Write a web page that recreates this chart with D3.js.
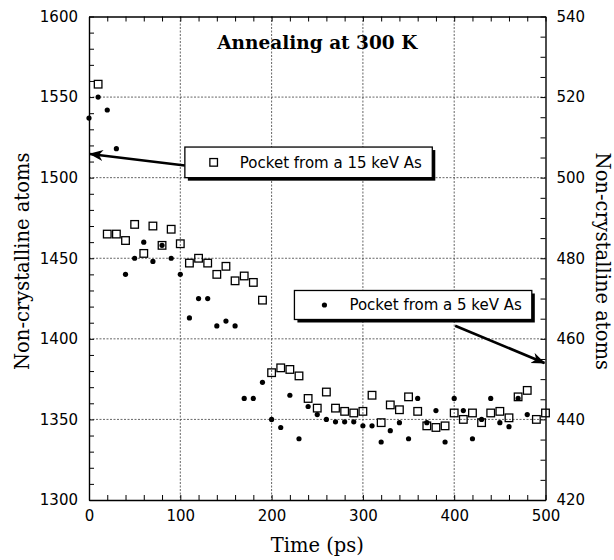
<!DOCTYPE html>
<html lang="en">
<head>
<meta charset="UTF-8">
<script src="https://d3js.org/d3.v7.min.js"></script>
<style>
    body { margin: 0; background: #fff; }
    .tick text { font-family: "DejaVu Sans", sans-serif; font-size: 15px; fill: #000; }
    .grid line { stroke: #555; stroke-width: 0.9; stroke-dasharray: 2,1.5; }
    .title { font-family: "DejaVu Serif", serif; font-weight: bold; font-size: 18.5px; }
    .axis-label { font-family: "DejaVu Serif", serif; font-size: 19.5px; }
    .legend-text { font-family: "DejaVu Sans", sans-serif; font-size: 15px; }
</style>
</head>
<body>
<div id="chart"></div>
<script>
// 15 keV As pocket (left axis, atoms)
const time15 = [10, 20, 30, 40, 50, 60, 70, 80, 90, 100,
    110, 120, 130, 140, 150, 160, 170, 180, 190, 200,
    210, 220, 230, 240, 250, 260, 270, 280, 290, 300,
    310, 320, 330, 340, 350, 360, 370, 380, 390, 400,
    410, 420, 430, 440, 450, 460, 470, 480, 490, 500];
const atoms15 = [1558, 1465, 1465, 1461, 1471, 1453, 1470, 1458, 1468, 1459,
    1447, 1450, 1447, 1440, 1445, 1436, 1439, 1435, 1424, 1379,
    1382, 1381, 1377, 1363, 1357, 1367, 1357, 1355, 1354, 1355,
    1365, 1348, 1359, 1356, 1364, 1355, 1346, 1345, 1346, 1354,
    1350, 1354, 1348, 1354, 1355, 1351, 1364, 1368, 1350, 1354];

// 5 keV As pocket (right axis, atoms)
const time5 = [0, 10, 20, 30, 40, 50, 60, 70, 80, 90,
    100, 110, 120, 130, 140, 150, 160, 170, 180, 190,
    200, 210, 220, 230, 240, 250, 260, 270, 280, 290,
    300, 310, 320, 330, 340, 350, 360, 370, 380, 390,
    400, 410, 420, 430, 440, 450, 460, 470, 480];
const atoms5 = [514.8, 520, 516.8, 507.2, 476, 480, 484, 479.2, 483.2, 480,
    476, 465.2, 470, 470, 463.2, 464.4, 463.2, 445.2, 445.2, 449.2,
    440, 438, 446, 435.2, 443.2, 441.2, 440, 439.4, 439.4, 439.4,
    438.4, 438.4, 434.4, 437.2, 439.2, 435.2, 445.2, 439.2, 442.2, 434.4,
    445.2, 442.2, 435.2, 440, 445.2, 439.2, 438.2, 445.2, 441.2];

const xLabels = [0, 100, 200, 300, 400, 500];
const yLeftLabels = [1300, 1350, 1400, 1450, 1500, 1550, 1600];
const yRightLabels = [420, 440, 460, 480, 500, 520, 540];
const xGrid = [100, 200, 300, 400];
const yGrid = [1350, 1400, 1450, 1500, 1550];

const W = 614, H = 560;
const margin = { top: 16.5, right: 68.5, bottom: 60, left: 89 };
const width = W - margin.left - margin.right,
      height = H - margin.top - margin.bottom;

const svg = d3.select("#chart").append("svg")
    .attr("width", W).attr("height", H);
const g = svg.append("g")
    .attr("transform", `translate(${margin.left},${margin.top})`);

const x = d3.scaleLinear().domain([0, 500]).range([0, width]);
const yL = d3.scaleLinear().domain([1300, 1600]).range([height, 0]);
const yR = d3.scaleLinear().domain([420, 540]).range([height, 0]);

// grid
const grid = g.append("g").attr("class", "grid");
grid.selectAll(".gx").data(xGrid).enter().append("line")
    .attr("x1", d => x(d)).attr("x2", d => x(d))
    .attr("y1", 0).attr("y2", height);
grid.selectAll(".gy").data(yGrid).enter().append("line")
    .attr("x1", 0).attr("x2", width)
    .attr("y1", d => yL(d)).attr("y2", d => yL(d));

// axes, ticks pointing inward
g.append("g")
    .attr("transform", `translate(0,${height})`)
    .call(d3.axisBottom(x).tickValues(d3.range(0, 501, 20)).tickSize(-5).tickSizeOuter(0)
        .tickPadding(10).tickFormat(d => xLabels.includes(d) ? d : ""));
g.append("g")
    .call(d3.axisTop(x).tickValues(d3.range(0, 501, 20)).tickSize(-5).tickSizeOuter(0)
        .tickFormat(""));
g.append("g")
    .call(d3.axisLeft(yL).tickValues(d3.range(1300, 1601, 10)).tickSize(-5).tickSizeOuter(0)
        .tickPadding(11).tickFormat(d => yLeftLabels.includes(d) ? d : ""));
g.append("g")
    .attr("transform", `translate(${width},0)`)
    .call(d3.axisRight(yR).tickValues(d3.range(420, 541, 5)).tickSize(-5).tickSizeOuter(0)
        .tickPadding(11).tickFormat(d => yRightLabels.includes(d) ? d : ""));

g.selectAll(".domain").attr("stroke", "#000").attr("stroke-width", 1.4);
g.selectAll(".tick line").attr("stroke", "#000").attr("stroke-width", 1);

// markers
const pts15 = time15.map((t, i) => ({ t: t, v: atoms15[i] }));
const pts5 = time5.map((t, i) => ({ t: t, v: atoms5[i] }));

g.selectAll(".sq").data(pts15).enter().append("rect")
    .attr("x", d => x(d.t) - 3.8).attr("y", d => yL(d.v) - 3.8)
    .attr("width", 7.6).attr("height", 7.6)
    .attr("fill", "none").attr("stroke", "#000").attr("stroke-width", 1.3);

g.selectAll(".dot").data(pts5).enter().append("circle")
    .attr("cx", d => x(d.t)).attr("cy", d => yR(d.v))
    .attr("r", 2.6).attr("fill", "#000");

// title
g.append("text").attr("class", "title")
    .attr("x", x(250)).attr("y", 32)
    .attr("text-anchor", "middle")
    .text("Annealing at 300 K");

// axis labels
svg.append("text").attr("class", "axis-label")
    .attr("x", margin.left + x(250)).attr("y", 552)
    .attr("text-anchor", "middle").text("Time (ps)");
svg.append("text").attr("class", "axis-label")
    .attr("transform", `translate(29,${margin.top + height / 2 + 3}) rotate(-90)`)
    .attr("text-anchor", "middle").text("Non-crystalline atoms");
svg.append("text").attr("class", "axis-label")
    .attr("transform", `translate(596,${margin.top + height / 2 + 3}) rotate(90)`)
    .attr("text-anchor", "middle").text("Non-crystalline atoms");

// arrowhead
svg.append("defs").append("marker")
    .attr("id", "head").attr("viewBox", "0 -6 14 12")
    .attr("refX", 13).attr("refY", 0)
    .attr("markerWidth", 14).attr("markerHeight", 12)
    .attr("markerUnits", "userSpaceOnUse")
    .attr("orient", "auto")
    .append("path").attr("d", "M0,-5.5L14,0L0,5.5L4,0Z").attr("fill", "#000");

// callout boxes
function callout(x0, y0, x1, y1, label, kind, from, to) {
    const bx = x(x0), by = yL(y0), bw = x(x1) - x(x0), bh = yL(y1) - yL(y0);
    g.append("line")
        .attr("x1", from[0]).attr("y1", from[1])
        .attr("x2", to[0]).attr("y2", to[1])
        .attr("stroke", "#000").attr("stroke-width", 2.6)
        .attr("marker-end", "url(#head)");
    g.append("rect").attr("x", bx + 3).attr("y", by + 3)
        .attr("width", bw).attr("height", bh).attr("fill", "#000");
    g.append("rect").attr("x", bx).attr("y", by)
        .attr("width", bw).attr("height", bh)
        .attr("fill", "#fff").attr("stroke", "#000").attr("stroke-width", 1.3);
    const cy = by + bh / 2;
    if (kind === "square") {
        g.append("rect").attr("x", bx + 25).attr("y", cy - 3.8)
            .attr("width", 7.6).attr("height", 7.6)
            .attr("fill", "none").attr("stroke", "#000").attr("stroke-width", 1.3);
    } else {
        g.append("circle").attr("cx", bx + 30).attr("cy", cy).attr("r", 2.6).attr("fill", "#000");
    }
    g.append("text").attr("class", "legend-text")
        .attr("x", bx + (kind === "square" ? 55 : 55)).attr("y", cy + 5.5)
        .text(label);
}

callout(105, 1519, 376, 1500, "Pocket from a 15 keV As", "square",
    [x(105), yL(1507.5)], [x(0) + 1, yL(1514.7)]);
callout(225, 1430, 485, 1412, "Pocket from a 5 keV As", "dot",
    [x(401), yL(1410) + 3], [x(500) - 1, yR(454)]);
</script>
</body>
</html>
